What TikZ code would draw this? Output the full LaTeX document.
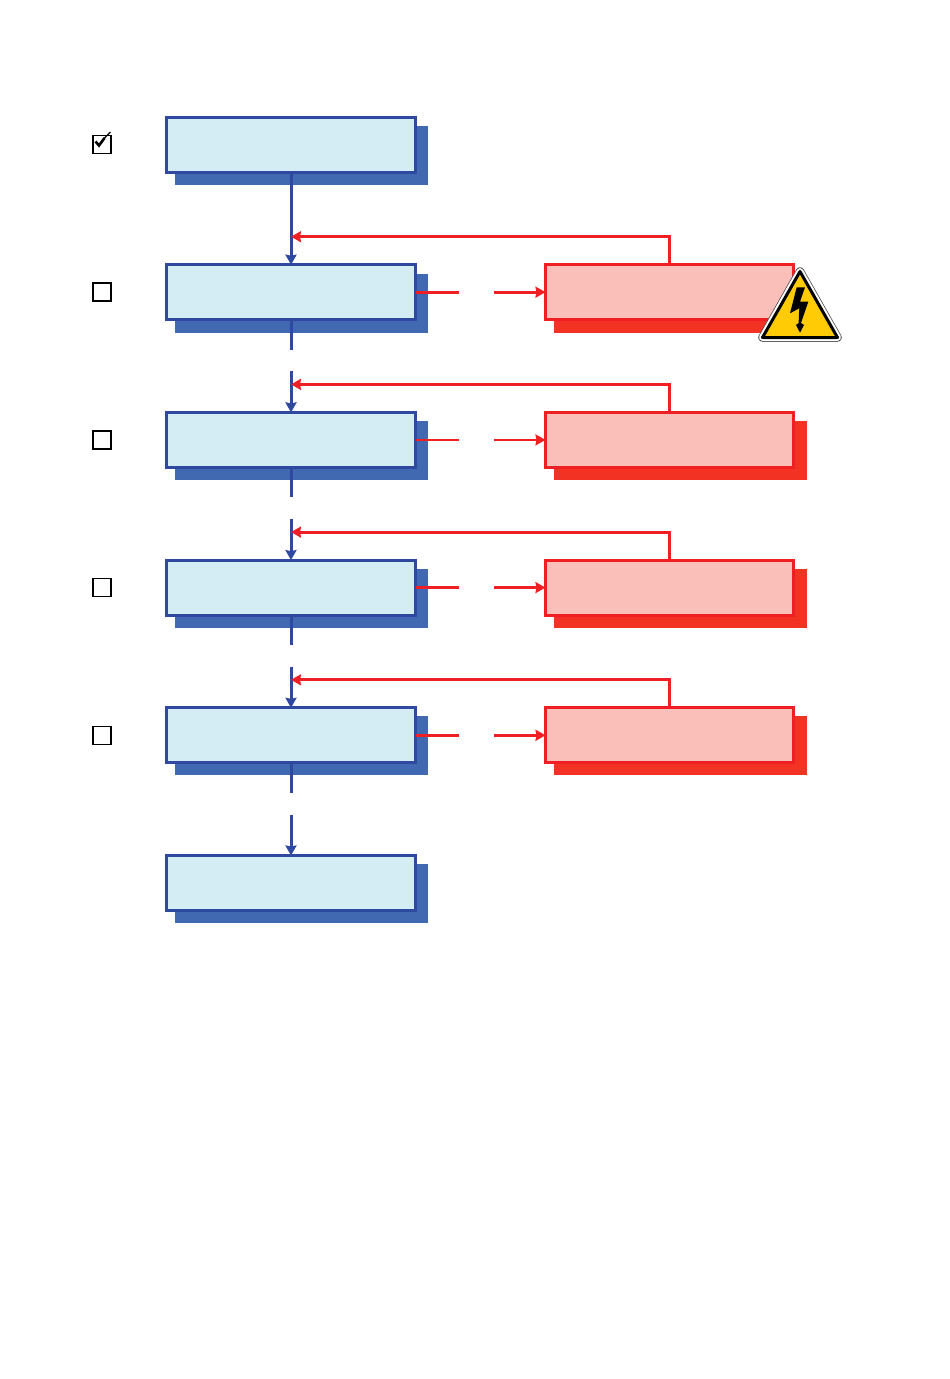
\documentclass[tikz,border=0pt]{standalone}
\usepackage{tikz}
\usetikzlibrary{positioning}
\usetikzlibrary{arrows.meta}
\definecolor{blueline}{HTML}{3049A0}
\definecolor{bluefill}{HTML}{D4EDF4}
\definecolor{blueshade}{HTML}{4169B2}
\definecolor{redline}{HTML}{EE2024}
\definecolor{redfill}{HTML}{FBBFB9}
\definecolor{redshade}{HTML}{F23324}
\definecolor{signfill}{HTML}{FFCB05}
\tikzset{%
  b/.style = {rectangle,draw=blueline,fill=bluefill,line width=3pt,outer sep=0pt,
        minimum width=249pt,minimum height=55pt},
  r/.style = {rectangle,draw=redline,fill=redfill,line width=2.8pt,outer sep=0pt,
        minimum width=248pt,minimum height=55pt},
  bs/.style = {rectangle,fill=blueshade,outer sep=0pt,
        minimum width=253pt,minimum height=59pt},
  rs/.style = {rectangle,fill=redshade,outer sep=0pt,
        minimum width=253pt,minimum height=59pt},
  tick/.style = {rectangle,draw,line width=1.6pt,outer sep=0pt,
        minimum width=18pt,minimum height=18pt},
  bluearrow/.style = {-{Stealth[length=10pt,width=11pt,inset=1pt]},draw=blueline,line width=3pt},
  blueline/.style = {draw=blueline,line width=3pt},
  redarrow/.style = {-{Stealth[length=10pt,width=11pt,inset=1pt]},draw=redline,line width=2.8pt},
  redline/.style = {draw=redline,line width=2.8pt}
}
\begin{document}
\begin{tikzpicture}[x=1pt,y=-1pt]
    \useasboundingbox (0,0) rectangle (950,1379);

    \node[bs] (s1) at (301.5,155.5) {};
    \node[bs] (s2) [below=88.5pt of s1] {};
    \node[bs] (s3) [below=88.5pt of s2] {};
    \node[bs] (s4) [below=88.5pt of s3] {};
    \node[bs] (s5) [below=88.5pt of s4] {};
    \node[bs] (s6) [below=88.5pt of s5] {};

    \node[rs,minimum width=236pt] (t2) at (672,303) {};
    \node[rs] (t3) at (680.5,450.5) {};
    \node[rs] (t4) [below=88.5pt of t3] {};
    \node[rs] (t5) [below=88.5pt of t4] {};

    \node[b] (b1) at (291,144.5) {};
    \node[b] (b2) [below=92.7pt of b1] {};
    \node[b] (b3) [below=92.7pt of b2] {};
    \node[b] (b4) [below=92.7pt of b3] {};
    \node[b] (b5) [below=92.7pt of b4] {};
    \node[b] (b6) [below=92.7pt of b5] {};

    \node[r] (r2) [right=130pt of b2] {};
    \node[r] (r3) [right=130pt of b3] {};
    \node[r] (r4) [right=130pt of b4] {};
    \node[r] (r5) [right=130pt of b5] {};

    \node[tick] (c1) [left=55.5pt of b1] {};
    \node[tick] (c2) [left=55.5pt of b2] {};
    \node[tick] (c3) [left=55.5pt of b3] {};
    \node[tick] (c4) [left=55.5pt of b4] {};
    \node[tick] (c5) [left=55.5pt of b5] {};

    % tick mark of the first box
    \draw[line width=2.6pt] (95.5,141.5) -- (99,145.5) -- (104.5,138);
    \draw[line width=1.3pt] (104.5,138) -- (110.5,132);

    % gaps in the lines
    \coordinate[below=30pt of b2.south] (bo2);
    \coordinate[above=41pt of b3.north] (bi3);
    \coordinate[below=30pt of b3.south] (bo3);
    \coordinate[above=41pt of b4.north] (bi4);
    \coordinate[below=30pt of b4.south] (bo4);
    \coordinate[above=41pt of b5.north] (bi5);
    \coordinate[below=30pt of b5.south] (bo5);
    \coordinate[above=41pt of b6.north] (bi6);

    \coordinate[right=43.5pt of b2.east] (ro2);
    \coordinate[left=52pt of r2.west] (ri2);
    \coordinate[right=43.5pt of b3.east] (ro3);
    \coordinate[left=52pt of r3.west] (ri3);
    \coordinate[right=43.5pt of b4.east] (ro4);
    \coordinate[left=52pt of r4.west] (ri4);
    \coordinate[right=43.5pt of b5.east] (ro5);
    \coordinate[left=52pt of r5.west] (ri5);

    \coordinate[above=28pt of b2.north] (m2);
    \coordinate[above=28pt of b3.north] (m3);
    \coordinate[above=28pt of b4.north] (m4);
    \coordinate[above=28pt of b5.north] (m5);

    \draw[bluearrow] (b1) -- (b2);
    \draw[blueline] (b2) -- (bo2);
    \draw[bluearrow] (bi3) -- (b3);
    \draw[blueline] (b3) -- (bo3);
    \draw[bluearrow] (bi4) -- (b4);
    \draw[blueline] (b4) -- (bo4);
    \draw[bluearrow] (bi5) -- (b5);
    \draw[blueline] (b5) -- (bo5);
    \draw[bluearrow] (bi6) -- (b6);

    \draw[redline] (b2) -- (ro2);
    \draw[redarrow] (ri2) -- (r2);
    \draw[redline,line width=2pt] (b3) -- (ro3);
    \draw[redarrow,line width=2pt] (ri3) -- (r3);
    \draw[redline,line width=3.2pt] (b4) -- (ro4);
    \draw[redarrow,line width=3.2pt] (ri4) -- (r4);
    \draw[redline,line width=3.2pt] (b5) -- (ro5);
    \draw[redarrow,line width=3.2pt] (ri5) -- (r5);

    \draw[redarrow] (r2.north) |- (m2);
    \draw[redarrow,line width=3.2pt] (r3.north) |- (m3);
    \draw[redarrow] (r4.north) |- (m4);
    \draw[redarrow] (r5.north) |- (m5);

    % warning sign
    \draw[black!70,line width=8.5pt,line join=round] (800,271.5) -- (837.5,337.5) -- (762.5,337.5) -- cycle;
    \draw[white,line width=7pt,line join=round] (800,271.5) -- (837.5,337.5) -- (762.5,337.5) -- cycle;
    \draw[black,fill=signfill,line width=3pt,line join=round] (800,271.5) -- (837.5,337.5) -- (762.5,337.5) -- cycle;
    \fill[black] (796.7,287.3) -- (805,287.3) -- (800,301.7) -- (808.3,301.7) -- (801,323)
        -- (804,325) -- (800,332.7) -- (796,325) -- (798.6,323) -- (799.3,308.3) -- (790,313.3) -- cycle;
\end{tikzpicture}
\end{document}
